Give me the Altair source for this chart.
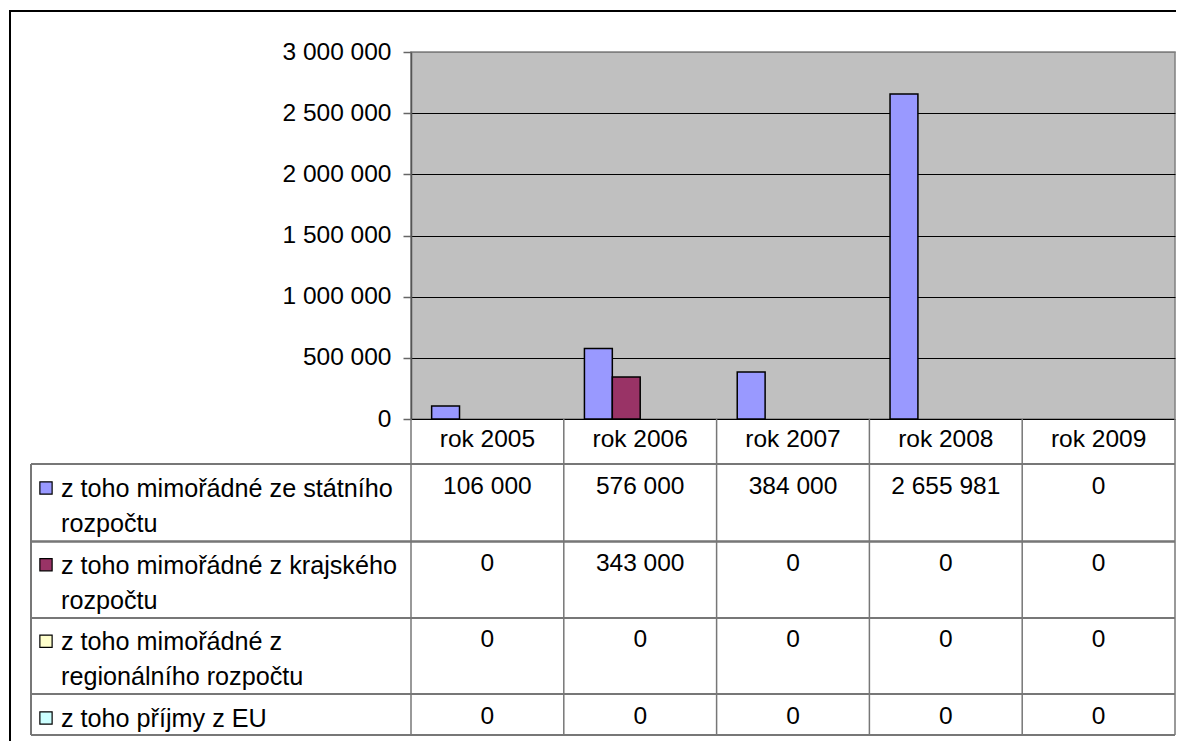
import altair as alt
import pandas as pd

# ---- data ----
categories = ["rok 2005", "rok 2006", "rok 2007", "rok 2008", "rok 2009"]
series = [
    "z toho mimořádné ze státního rozpočtu",
    "z toho mimořádné z krajského rozpočtu",
    "z toho mimořádné z regionálního rozpočtu",
    "z toho příjmy z EU",
]
series_labels = [
    "z toho mimořádné ze státního\nrozpočtu",
    "z toho mimořádné z krajského\nrozpočtu",
    "z toho mimořádné z\nregionálního rozpočtu",
    "z toho příjmy z EU",
]
colors = ["#9999FF", "#993366", "#FFFFCC", "#CCFFFF"]
statni = [106000, 576000, 384000, 2655981, 0]
krajsky = [0, 343000, 0, 0, 0]
regionalni = [0, 0, 0, 0, 0]
eu = [0, 0, 0, 0, 0]
y_ticks = [0, 500000, 1000000, 1500000, 2000000, 2500000, 3000000]

all_values = [statni, krajsky, regionalni, eu]
rows = []
for i, (s, vals) in enumerate(zip(series, all_values)):
    for c, v in zip(categories, vals):
        rows.append({"cat": c, "series": s, "row": i, "value": v})
df = pd.DataFrame(rows)
cat_df = pd.DataFrame({"cat": categories})
ser_df = pd.DataFrame({"series": series, "label": series_labels, "row": list(range(len(series)))})

FONT = "Liberation Sans"
FS = 24.5
FS_LAB = 25.2
W, H = 764, 367
LINE = "#777777"

xscale = alt.Scale(domain=categories, paddingInner=0, paddingOuter=0)
cscale = alt.Scale(domain=series, range=colors)
rowscale = alt.Scale(domain=[0, 3], range=[412, 642], nice=False, zero=False)

bars = alt.Chart(df).transform_filter("datum.value > 0").mark_bar(
    stroke="black", strokeWidth=1.5
).encode(
    x=alt.X("cat:N", scale=xscale, axis=None),
    xOffset=alt.XOffset("series:N", scale=alt.Scale(domain=series, paddingInner=0, paddingOuter=0.74)),
    y=alt.Y(
        "value:Q",
        scale=alt.Scale(domain=[0, 3000000], nice=False),
        axis=alt.Axis(
            values=y_ticks,
            title=None,
            labelExpr="replace(format(datum.value, ','), regexp(',', 'g'), ' ')",
            labelFont=FONT,
            labelFontSize=FS,
            labelColor="black",
            labelPadding=12,
            tickSize=8,
            tickColor="#666666",
            tickWidth=1.5,
            domainColor="#555555",
            domainWidth=1.5,
            grid=True,
            gridColor={"condition": {"test": "datum.value >= 3000000", "value": "#808080"}, "value": "black"},
            gridWidth=1.2,
            gridOpacity=1,
        ),
    ),
    color=alt.Color("series:N", scale=cscale, legend=None),
)

header = alt.Chart(cat_df).mark_text(font=FONT, fontSize=FS, baseline="middle", color="black").encode(
    x=alt.X("cat:N", scale=xscale, axis=None),
    y=alt.value(388),
    text="cat:N",
)

values_txt = alt.Chart(df).transform_calculate(
    fmt="replace(format(datum.value, ','), regexp(',', 'g'), ' ')"
).mark_text(font=FONT, fontSize=FS, baseline="top", dy=11, color="black").encode(
    x=alt.X("cat:N", scale=xscale, axis=None),
    y=alt.Y("row:Q", scale=rowscale, axis=None),
    text="fmt:N",
)

labels_txt = alt.Chart(ser_df).mark_text(
    font=FONT, fontSize=FS_LAB, baseline="top", align="left", dy=13, lineBreak="\n", lineHeight=35, color="black"
).encode(
    x=alt.value(-350),
    y=alt.Y("row:Q", scale=rowscale, axis=None),
    text="label:N",
)

keys = alt.Chart(ser_df).mark_square(size=150, stroke="black", strokeWidth=1.2, opacity=1, yOffset=24).encode(
    x=alt.value(-365),
    y=alt.Y("row:Q", scale=rowscale, axis=None),
    color=alt.Color("series:N", scale=cscale, legend=None),
)

vlines = alt.Chart(cat_df).mark_rule(color=LINE, strokeWidth=1.5).encode(
    x=alt.X("cat:N", scale=xscale, axis=None, bandPosition=0),
    y=alt.value(H),
    y2=alt.value(683),
)
vline_right = alt.Chart(cat_df).transform_filter(
    alt.datum.cat == categories[-1]
).mark_rule(color=LINE, strokeWidth=1.5).encode(
    x=alt.X("cat:N", scale=xscale, axis=None, bandPosition=1),
    y=alt.value(H),
    y2=alt.value(683),
)

hlayers = []
for yy in [412, 489.5, 566, 642, 683]:
    hlayers.append(
        alt.Chart(cat_df).mark_rule(color=LINE, strokeWidth=1.5).encode(
            x=alt.value(-380), x2=alt.value(W), y=alt.value(yy)
        )
    )
vline_left = alt.Chart(cat_df).mark_rule(color=LINE, strokeWidth=1.5).encode(
    x=alt.value(-380), y=alt.value(412), y2=alt.value(683)
)

border_top = alt.Chart(cat_df).mark_rule(color="black", strokeWidth=2).encode(
    x=alt.value(-401), x2=alt.value(W + 20), y=alt.value(-41)
)
border_left = alt.Chart(cat_df).mark_rule(color="black", strokeWidth=2).encode(
    x=alt.value(-401), y=alt.value(-42), y2=alt.value(760)
)

chart = alt.layer(
    bars, header, values_txt, labels_txt, keys, vlines, vline_right, vline_left, *hlayers,
    border_top, border_left,
).resolve_scale(y="independent").properties(
    width=W,
    height=H,
    autosize=alt.AutoSizeParams(type="none"),
    padding={"left": 403, "top": 44, "right": 1, "bottom": 322},
    background="white",
).configure_view(
    fill="#C0C0C0", stroke="#808080", strokeWidth=1.5
)

chart.save("out.html", embed_options={"renderer": "svg", "actions": False})
